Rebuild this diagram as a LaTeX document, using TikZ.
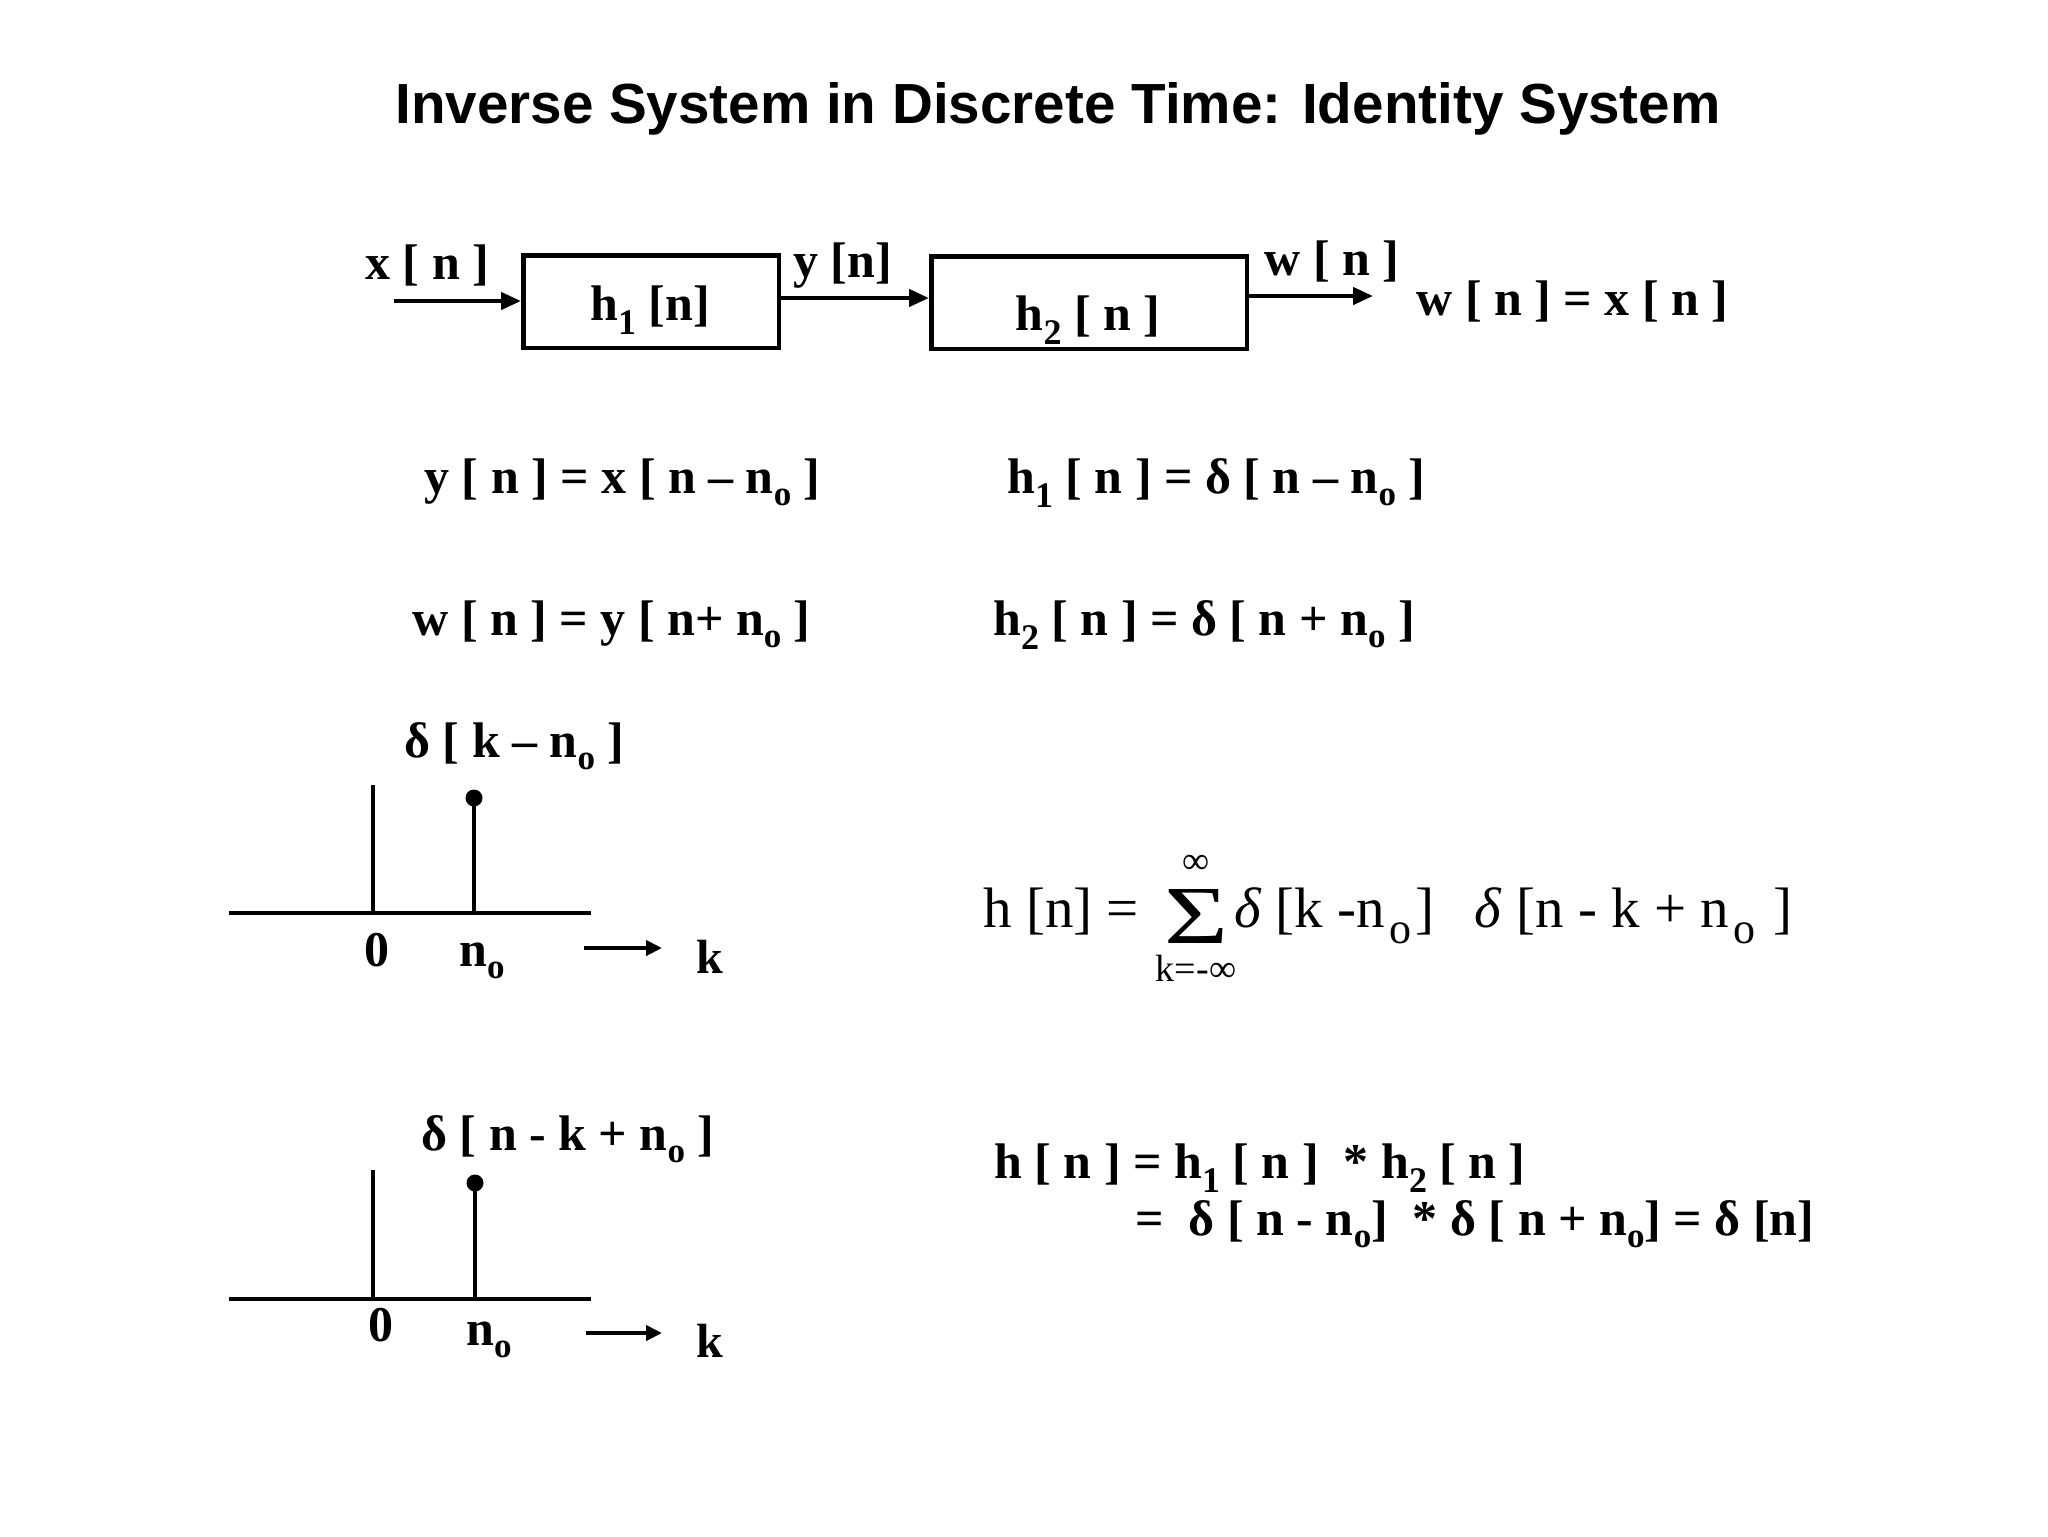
\documentclass[tikz,border=0pt]{standalone}
\usepackage{fontspec}
\setmainfont{Liberation Serif}
\newfontfamily\titlefont{Liberation Sans}
\usetikzlibrary{arrows.meta}
\newcommand\bso{\raisebox{-6pt}{\fontsize{17.5}{17.5}\selectfont o}}
\newcommand\bsd[1]{\raisebox{-7pt}{\fontsize{18}{18}\selectfont #1}}
\newcommand\rso{\raisebox{-8pt}{\fontsize{22}{22}\selectfont\hspace{0.1em}o\hspace{0.1em}}}
\tikzset{
  bt/.style={font=\fontsize{25}{30}\selectfont\bfseries, inner sep=0pt},
  lbl/.style={font=\fontsize{25}{30}\selectfont\bfseries, inner sep=0pt},
  kl/.style={font=\fontsize{24}{28}\selectfont\bfseries, inner sep=0pt},
  rt/.style={font=\fontsize{28.5}{34}\selectfont, inner sep=0pt},
  lim/.style={font=\fontsize{19}{22}\selectfont, inner sep=0pt},
  ttl/.style={font=\titlefont\bfseries\fontsize{28.3}{34}\selectfont, inner sep=0pt},
  blk/.style={draw, line width=2.25pt, minimum height=46.25pt, inner sep=0pt},
  arr/.style={line width=2.2pt, -{Triangle[length=10pt,width=8.5pt]}},
  sarr/.style={line width=2pt, -{Triangle[length=8pt,width=7.5pt]}},
  ax/.style={line width=2pt},
  dotn/.style={circle, fill, inner sep=0pt, minimum size=8.5pt},
}
\begin{document}
\begin{tikzpicture}[x=0.5pt,y=-0.5pt]
\useasboundingbox (0,0) rectangle (2048,1536);
% title
\node[ttl, anchor=base] (title) at (1058,123) {Inverse System in Discrete Time: Identity System};
% block diagram
\node[blk, minimum width=127.75pt] (b1) at (651,301.5) {};
\node[blk, minimum width=157.75pt] (b2) at (1089,302.5) {};
\node[bt, anchor=base] (h1l) at (650,320) {h\bsd{1} [n]};
\node[bt, anchor=base] (h2l) at (1088,330) {h\bsd{2} [ n ]};
\coordinate (xin) at (394,301);
\coordinate (mid) at (800,298);
\coordinate (wout) at (1373,296);
\draw[arr] (xin) -- (xin -| b1.west);
\draw[arr] (mid -| b1.east) -- (mid -| b2.west);
\draw[arr] (wout -| b2.east) -- (wout);
\node[bt, anchor=base west] (xl) at (365,279) {x [ n ]};
\node[bt, anchor=base west] (yl) at (793,277) {y [n]};
\node[bt, anchor=base west] (wl) at (1264,275) {w [ n ]};
\node[bt, anchor=base west] (wx) at (1416,315) {w [ n ] = x [ n ]};
% equations
\node[bt, anchor=base west] (e1) at (424,493) {y [ n ] = x [ n – n\bso\ ]};
\node[bt, anchor=base west] (e2) at (1007,493) {h\bsd{1} [ n ] = δ [ n – n\bso\ ]};
\node[bt, anchor=base west] (e3) at (412,635) {w [ n ] = y [ n+ n\bso\ ]};
\node[bt, anchor=base west] (e4) at (993,635) {h\bsd{2} [ n ] = δ [ n + n\bso\ ]};
% stem plot 1
\node[bt, anchor=base west] (d1) at (404,757) {δ [ k – n\bso\ ]};
\coordinate (a1l) at (229,913);
\coordinate (a1r) at (591,913);
\draw[ax] (a1l) -- (a1r);
\coordinate (v1t) at (373,785);
\draw[ax] (v1t) -- (v1t |- a1l);
\node[dotn] (dot1) at (474,798) {};
\draw[ax] (dot1.center) -- (dot1 |- a1l);
\node[lbl, anchor=base] (z1) at (377,966) {0};
\node[lbl, anchor=base west] (n1) at (459,966) {n\bso};
\coordinate (s1) at (584,948);
\coordinate (e1a) at (662,948);
\draw[sarr] (s1) -- (e1a);
\node[kl, anchor=base west] (k1) at (696,973) {k};
% stem plot 2
\node[bt, anchor=base west] (d2) at (421,1150) {δ [ n - k + n\bso\ ]};
\coordinate (a2l) at (229,1299);
\coordinate (a2r) at (591,1299);
\draw[ax] (a2l) -- (a2r);
\coordinate (v2t) at (373,1170);
\draw[ax] (v2t) -- (v2t |- a2l);
\node[dotn] (dot2) at (475,1183) {};
\draw[ax] (dot2.center) -- (dot2 |- a2l);
\node[lbl, anchor=base] (z2) at (381,1341) {0};
\node[lbl, anchor=base west] (n2) at (466,1345) {n\bso};
\coordinate (s2) at (586,1333);
\coordinate (e2a) at (662,1333);
\draw[sarr] (s2) -- (e2a);
\node[kl, anchor=base west] (k2) at (696,1357) {k};
% convolution sum
\node[rt, anchor=base west] (fl) at (983,927) {h [n] =};
\node[inner sep=0pt] (sig) at (1196,916) {\resizebox{32pt}{27pt}{\fontsize{28}{30}\selectfont Σ}};
\node[lim, anchor=south] (inf) at (1196,874) {∞};
\node[lim, anchor=north] (low) at (1196,955) {k=-∞};
\node[rt, anchor=base west] (fr) at (1234,927) {\textit{δ} [k -n\rso]\hspace{0.7em}\textit{δ} [n - k + n\rso\ ]};
% result
\node[bt, anchor=base west] (r1) at (994,1178) {h [ n ] = h\bsd{1} [ n ] \ * h\bsd{2} [ n ]};
\node[bt, anchor=base west] (r2) at (1135,1235) {= \ δ [ n - n\bso] \ * δ [ n + n\bso] = δ [n]};
\end{tikzpicture}
\end{document}
